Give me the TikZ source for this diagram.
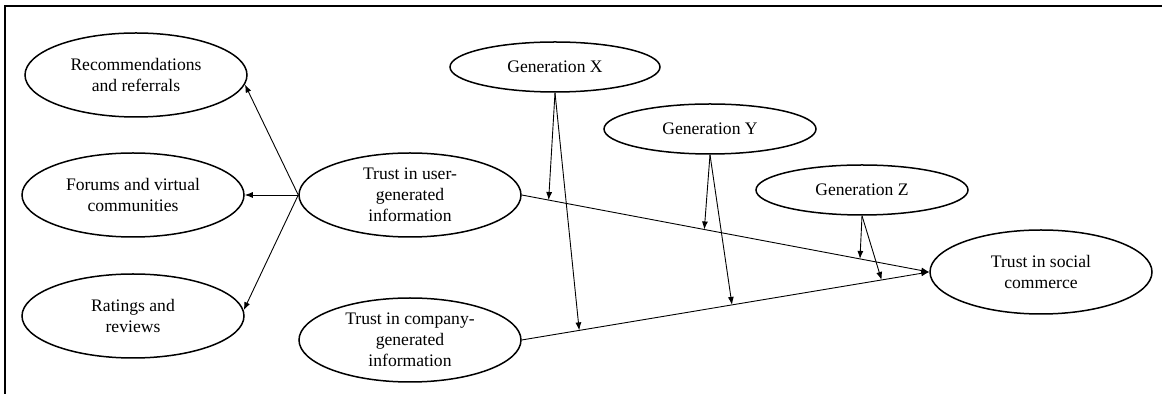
\documentclass[tikz,border=0pt]{standalone}
\usepackage{fontspec}
\setmainfont{Liberation Serif}
\usetikzlibrary{shapes.geometric,arrows.meta}

\begin{document}
\begin{tikzpicture}[x=0.5pt,y=-0.5pt,
		construct/.style={draw,ellipse,line width=0.75pt,inner sep=0pt,minimum width=111pt,minimum height=42pt,align=center,font=\fontsize{8.8}{10.5}\selectfont},
		generation/.style={construct,minimum width=106pt,minimum height=25pt},
		link/.style={-{Latex[length=4pt,width=3pt]},line width=0.45pt}]
	\useasboundingbox (0,0) rectangle (1162,394);
	\draw[line width=0.8pt] (5,394) -- (5,6) -- (1162,6);
	% dimensions of user-generated information
	\node[construct] (rec) at (136,75) {Recommendations\\and referrals};
	\node[construct] (forum) at (133,195) {Forums and virtual\\communities};
	\node[construct] (rate) at (133,316) {Ratings and\\reviews};
	\node[construct] (tug) at (410,195) {Trust in user-\\generated\\information};
	\node[construct] (tcg) at (410,340) {Trust in company-\\generated\\information};
	\node[construct] (tsc) at (1041,272) {Trust in social\\commerce};
	\node[generation,minimum width=105pt] (genx) at (555,67) {Generation X};
	\node[generation] (geny) at (710,129) {Generation Y};
	\node[generation] (genz) at (862,190) {Generation Z};
	\draw[link] (tug.west) -- (rec.-5);
	\draw[link] (tug.west) -- (forum.east);
	\draw[link] (tug.west) -- (rate.3);
	\draw[link] (tug.east) -- coordinate[pos=0.066] (ux) coordinate[pos=0.448] (uy) coordinate[pos=0.83] (uz) (tsc.west);
	\draw[link] (tcg.east) -- coordinate[pos=0.141] (cx) coordinate[pos=0.516] (cy) coordinate[pos=0.883] (cz) (tsc.west);
	% moderating effects
	\draw[link] (genx.south) -- (ux);
	\draw[link] (genx.south) -- (cx);
	\draw[link] (geny.south) -- (uy);
	\draw[link] (geny.south) -- (cy);
	\draw[link] (genz.south) -- (uz);
	\draw[link] (genz.south) -- (cz);
\end{tikzpicture}
\end{document}
